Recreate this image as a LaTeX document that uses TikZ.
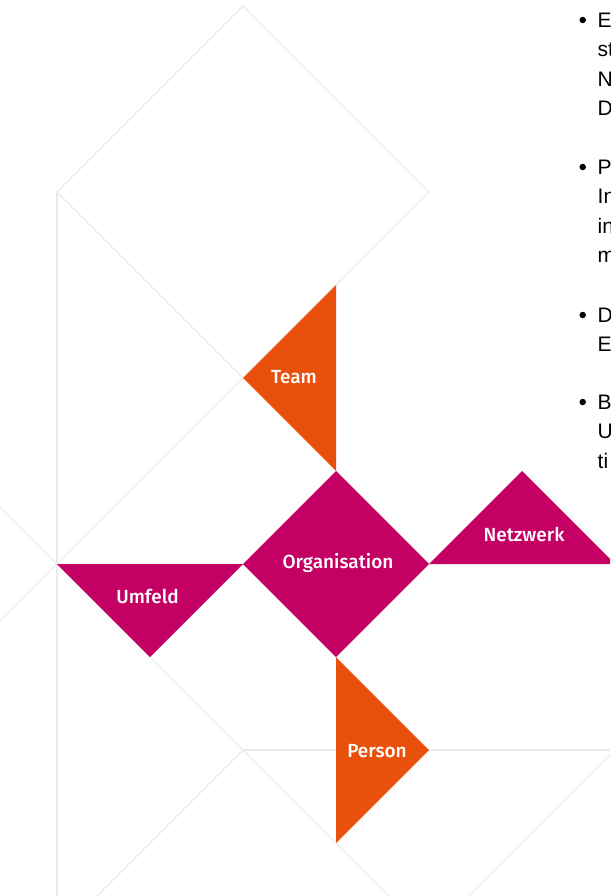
\documentclass[tikz,border=0pt]{standalone}
\usepackage{fontspec}
\setmainfont{Liberation Sans}
\newfontfamily\tilefont{Fira Sans Medium}
\usepackage{xcolor}
\usepackage{tikz}
\usetikzlibrary{positioning}
\definecolor{tilemagenta}{HTML}{C40064}
\definecolor{tileorange}{HTML}{E8500C}
\definecolor{gridgrey}{HTML}{EBEBEB}
\tikzstyle{gridline} = [draw=gridgrey, line width=1.3pt]
\tikzstyle{magentatile} = [fill=tilemagenta]
\tikzstyle{orangetile} = [fill=tileorange]
\tikzstyle{tilelabel} = [anchor=base, inner sep=0pt, text=white, font=\tilefont\fontsize{19}{22}\selectfont]
\tikzstyle{itemdot} = [circle, fill=black, inner sep=0pt, minimum size=6.5pt]
\tikzstyle{itemtext} = [anchor=north west, inner sep=0pt, align=left, font=\fontsize{21}{29.5}\selectfont]

\begin{document}
\begin{tikzpicture}[x=1pt, y=-1pt]
        \clip (0,0) rectangle (610,896);

        % background grid
        \draw [gridline] (243,6) -- (429,192) -- (0,621);
        \draw [gridline] (243,6) -- (57,192) -- (243,378);
        \draw [gridline] (57,192) -- (57,896);
        \draw [gridline] (0,507) -- (389,896);
        \draw [gridline] (243,750) -- (610,750);
        \draw [gridline] (243,750) -- (97,896);
        \draw [gridline] (615,750) -- (469,896);

        % tiles
        \fill [orangetile] (336,285) -- (243,378) -- (336,471) -- cycle;
        \fill [magentatile] (336,471) -- (429,564) -- (336,657) -- (243,564) -- cycle;
        \fill [magentatile] (429,564) -- (522,471) -- (615,564) -- cycle;
        \fill [magentatile] (57,564) -- (243,564) -- (150,657) -- cycle;
        \fill [orangetile] (336,657) -- (429,750) -- (336,843) -- cycle;

        \node (team) [tilelabel] at (294,383) {Team};
        \node (organisation) [tilelabel] at (338,568) {Organisation};
        \node (netzwerk) [tilelabel] at (524,541) {Netzwerk};
        \node (umfeld) [tilelabel] at (147.5,603) {Umfeld};
        \node (person) [tilelabel] at (377,757) {Person};

        % bullet list, cut at the right edge
        \node (dot1) [itemdot] at (582.7,20) {};
        \node (item1) [itemtext] at (597.5,12.5) {E\\st\\N\\D};
        \node (dot2) [itemdot] at (582.7,167) {};
        \node (item2) [itemtext] at (597.5,159.5) {P\\In\\in\\m};
        \node (dot3) [itemdot] at (582.7,315) {};
        \node (item3) [itemtext] at (597.5,307.5) {D\\E};
        \node (dot4) [itemdot] at (582.7,402) {};
        \node (item4) [itemtext] at (597.5,394.5) {B\\U\\ti};
    \end{tikzpicture}
\end{document}
